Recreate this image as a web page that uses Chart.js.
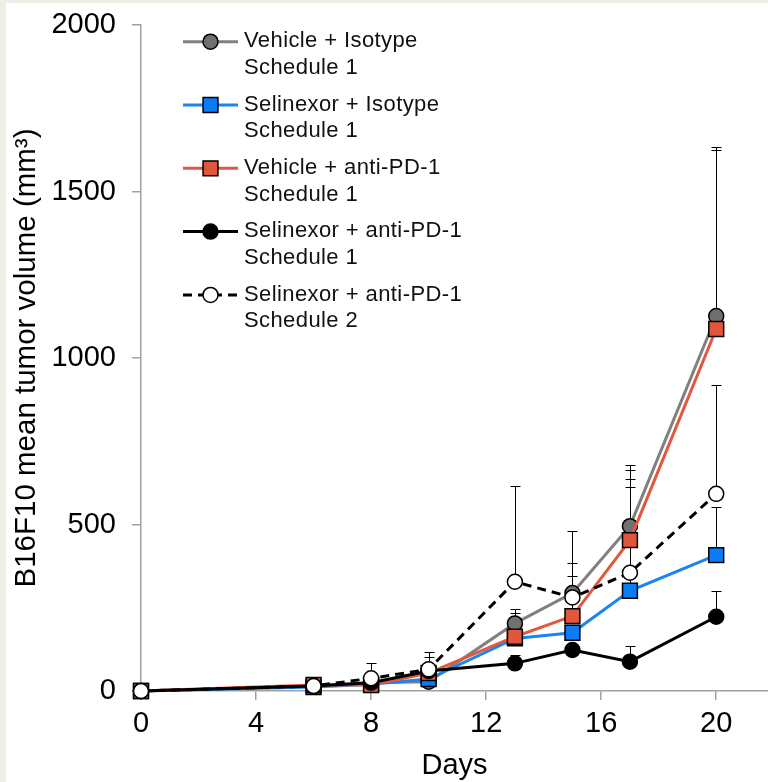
<!DOCTYPE html>
<html>
<head>
<meta charset="utf-8">
<script src="https://cdn.jsdelivr.net/npm/chart.js@4.4.1/dist/chart.umd.min.js"></script>
<style>
  html, body { margin: 0; padding: 0; background: #eeeee5; }
  #wrap { position: absolute; left: 6px; top: 3px; width: 762px; height: 779px; background: #fff; }
</style>
</head>
<body>
<div id="wrap"><canvas id="chart" width="762" height="779"></canvas></div>
<script>
// data (mean tumor volume, mm3) and upper error (SEM)
const days = [0, 6, 8, 10, 13, 15, 17, 20];
const xTicks = [0, 4, 8, 12, 16, 20];
const yTicks = [0, 500, 1000, 1500, 2000];

const vehIso      = [0, 15, 25, 28, 203, 294, 495, 1126];
const vehIsoErr   = [0, 0, 0, 0, 42, 89, 183, 509];
const selIso      = [0, 12, 20, 36, 158, 175, 301, 408];
const selIsoErr   = [0, 0, 0, 0, 0, 0, 311, 145];
const vehPd1      = [0, 18, 18, 54, 163, 225, 453, 1087];
const vehPd1Err   = [0, 0, 0, 49, 70, 120, 210, 538];
const selPd1S1    = [0, 15, 25, 60, 83, 123, 88, 223];
const selPd1S1Err = [0, 0, 0, 0, 25, 0, 48, 78];
const selPd1S2    = [0, 15, 38, 65, 328, 281, 355, 592];
const selPd1S2Err = [0, 0, 47, 51, 288, 200, 282, 327];

const seriesNames = [
  ["Vehicle + Isotype", "Schedule 1"],
  ["Selinexor + Isotype", "Schedule 1"],
  ["Vehicle + anti-PD-1", "Schedule 1"],
  ["Selinexor + anti-PD-1", "Schedule 1"],
  ["Selinexor + anti-PD-1", "Schedule 2"]
];
const errors = [vehIsoErr, selIsoErr, vehPd1Err, selPd1S1Err, selPd1S2Err];

const FONT = '"Liberation Sans", Arial, sans-serif';
const AXIS = "#a2a2a2";

const pts = vals => vals.map((v, i) => ({ x: days[i], y: v }));

function serie(label, vals, line, fill, shape, radius, order, dash) {
  return {
    label, data: pts(vals), order, clip: false,
    borderColor: line, borderWidth: 3, borderDash: dash || [],
    tension: 0,
    pointStyle: shape, pointRadius: radius, pointHoverRadius: radius,
    pointBackgroundColor: fill, pointBorderColor: "#000", pointBorderWidth: 1.5
  };
}

const datasets = [
  serie(seriesNames[0].join(" "), vehIso, "#808080", "#707070", "circle", 7.5, 5),
  serie(seriesNames[1].join(" "), selIso, "#1a84f2", "#0a7cf5", "rect", 10.5, 4),
  serie(seriesNames[2].join(" "), vehPd1, "#e2583f", "#e0573c", "rect", 10.5, 3),
  serie(seriesNames[3].join(" "), selPd1S1, "#000000", "#000000", "circle", 7.5, 2),
  serie(seriesNames[4].join(" "), selPd1S2, "#000000", "#ffffff", "circle", 7.5, 1, [9, 6])
];

/* error bars (upper only), drawn under the lines */
const errorBars = {
  id: "errorBars",
  beforeDatasetsDraw(chart) {
    const ctx = chart.ctx, xs = chart.scales.x, ys = chart.scales.y;
    ctx.save();
    ctx.strokeStyle = "#000";
    ctx.lineWidth = 1;
    chart.data.datasets.forEach((ds, k) => {
      errors[k].forEach((e, i) => {
        if (!e) return;
        const x = Math.round(xs.getPixelForValue(days[i])) + 0.5;
        const y0 = ys.getPixelForValue(ds.data[i].y);
        const y1 = Math.round(ys.getPixelForValue(ds.data[i].y + e)) + 0.5;
        ctx.beginPath();
        ctx.moveTo(x, y0); ctx.lineTo(x, y1);
        ctx.moveTo(x - 5, y1); ctx.lineTo(x + 5, y1);
        ctx.stroke();
      });
    });
    ctx.restore();
  }
};

/* legend: line + marker sample, two text lines */
const legendBox = {
  id: "legendBox",
  afterDraw(chart) {
    const ctx = chart.ctx;
    ctx.save();
    chart.data.datasets.forEach((ds, i) => {
      const y = 38.7 + i * 63.3;
      ctx.beginPath();
      ctx.strokeStyle = ds.borderColor;
      ctx.lineWidth = ds.borderWidth;
      ctx.setLineDash(ds.borderDash);
      ctx.moveTo(177, y); ctx.lineTo(232, y);
      ctx.stroke();
      ctx.setLineDash([]);
      const mx = 204.5, r = ds.pointRadius;
      ctx.fillStyle = ds.pointBackgroundColor;
      ctx.strokeStyle = "#000";
      ctx.lineWidth = 1.5;
      ctx.beginPath();
      if (ds.pointStyle === "rect") {
        const s = r * Math.SQRT1_2;
        ctx.rect(mx - s, y - s, 2 * s, 2 * s);
      } else {
        ctx.arc(mx, y, r, 0, Math.PI * 2);
      }
      ctx.fill(); ctx.stroke();
      ctx.fillStyle = "#111";
      ctx.font = "22px " + FONT;
      ctx.letterSpacing = "0.4px";
      ctx.textBaseline = "alphabetic";
      ctx.textAlign = "left";
      ctx.fillText(seriesNames[i][0], 238, y + 5.6);
      ctx.fillText(seriesNames[i][1], 238, y + 5.6 + 26.7);
    });
    ctx.restore();
  }
};

new Chart(document.getElementById("chart"), {
  type: "line",
  data: { datasets },
  plugins: [errorBars, legendBox],
  options: {
    responsive: false, animation: false, devicePixelRatio: 1,
    layout: { autoPadding: false, padding: { top: 22, right: 0, left: 0, bottom: 0 } },
    plugins: { legend: { display: false }, tooltip: { enabled: false } },
    scales: {
      x: {
        type: "linear", min: 0, max: 21.8,
        afterBuildTicks: s => { s.ticks = xTicks.map(v => ({ value: v })); },
        afterFit: s => { s.height = 91; s.paddingRight = 0; s.paddingLeft = 0; },
        grid: { drawOnChartArea: false, drawTicks: true, tickLength: 9, color: AXIS, lineWidth: 1.5 },
        border: { color: AXIS, width: 1.5 },
        ticks: { color: "#000", font: { family: FONT, size: 29 }, padding: 7, maxRotation: 0,
                 callback: v => String(v) },
        title: { display: true, text: "Days", color: "#000",
                 font: { family: FONT, size: 29, lineHeight: 1.1 }, padding: { top: 0, bottom: 0 } }
      },
      y: {
        min: 0, max: 2000,
        afterBuildTicks: s => { s.ticks = yTicks.map(v => ({ value: v })); },
        afterFit: s => { s.width = 135; s.paddingTop = 0; s.paddingBottom = 0; },
        grid: { drawOnChartArea: false, drawTicks: true, tickLength: 9, color: AXIS, lineWidth: 1.5 },
        border: { color: AXIS, width: 1.5 },
        ticks: { color: "#000", font: { family: FONT, size: 29 }, padding: 16,
                 callback: v => String(v) },
        title: { display: true, text: "B16F10 mean tumor volume (mm³)", color: "#000",
                 font: { family: FONT, size: 29.5, lineHeight: 1.1 }, padding: { top: 5, bottom: 0 } }
      }
    }
  }
});
</script>
</body>
</html>
